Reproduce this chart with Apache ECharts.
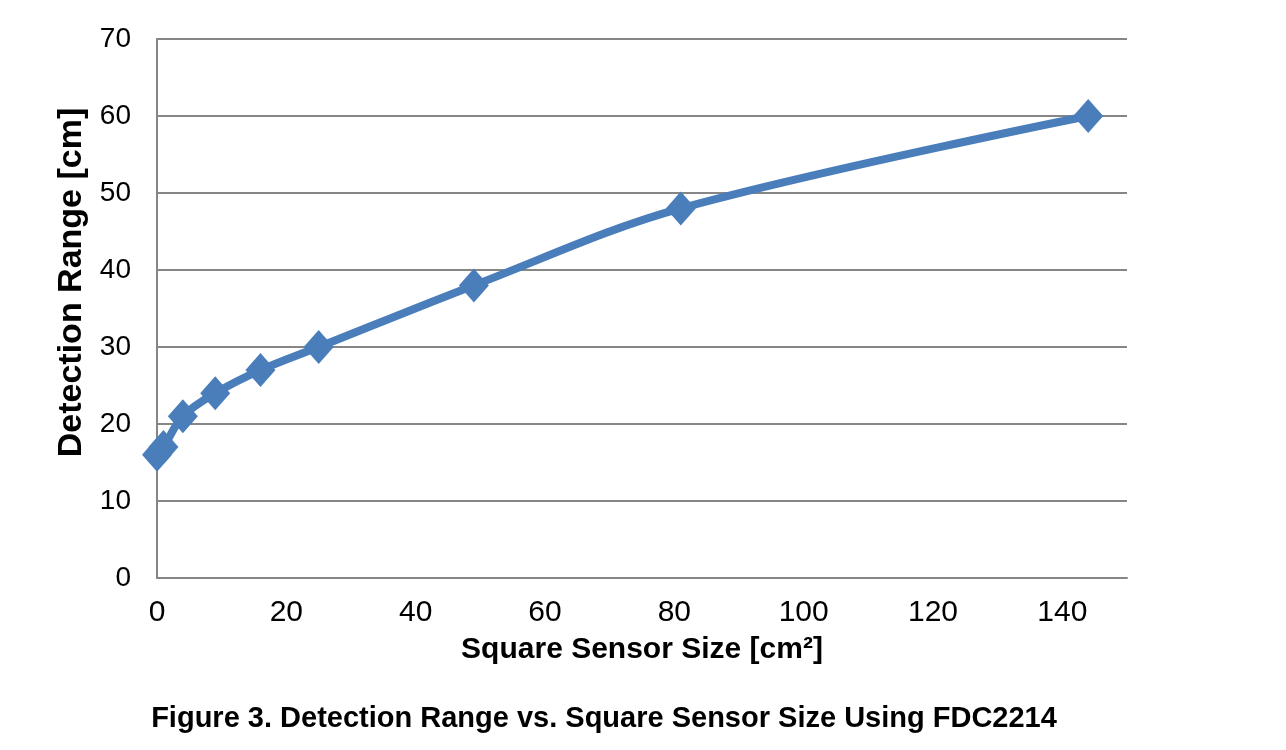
<!DOCTYPE html>
<html>
<head>
<meta charset="utf-8">
<script src="https://cdn.jsdelivr.net/npm/echarts@6/dist/echarts.min.js"></script>
<style>
  html, body { margin: 0; padding: 0; background: #fff; }
  #chart { width: 1286px; height: 750px; }
</style>
</head>
<body>
<div id="chart"></div>
<script>
// sensor area in cm^2 (square side 1..12 cm) and measured range
var sensorSize = [0, 1, 4, 9, 16, 25, 49, 81, 144];
var detectRange = [16, 17, 21, 24, 27, 30, 38, 48, 60];
var xTicks = [0, 20, 40, 60, 80, 100, 120, 140];
var yTicks = [0, 10, 20, 30, 40, 50, 60, 70];

var pts = sensorSize.map(function (v, i) { return [v, detectRange[i]]; });
var myChart = echarts.init(document.getElementById('chart'), null, { renderer: 'canvas' });
var font = 'Arial, "Liberation Sans", sans-serif';
var gray = '#868686';

var option = {
  animation: false,
  backgroundColor: '#fff',
  title: {
    text: 'Figure 3. Detection Range vs. Square Sensor Size Using FDC2214',
    left: 599,
    textAlign: 'center',
    top: 699,
    textStyle: { fontFamily: font, fontSize: 29, fontWeight: 'bold', color: '#000' }
  },
  grid: { left: 157, right: 159, top: 39, bottom: 172 },
  xAxis: {
    type: 'value',
    min: 0, max: 150, interval: 20,
    name: 'Square Sensor Size [cm²]',
    nameLocation: 'middle',
    nameGap: 57,
    nameTextStyle: { fontFamily: font, fontSize: 30, fontWeight: 'bold', color: '#000' },
    axisLine: { lineStyle: { color: gray, width: 2 } },
    axisTick: { show: false },
    splitLine: { show: false },
    axisLabel: {
      margin: 20, color: '#000', fontFamily: font, fontSize: 30,
      showMaxLabel: false,
      formatter: function (v) { return xTicks.indexOf(v) >= 0 ? v : ''; }
    }
  },
  yAxis: {
    type: 'value',
    min: 0, max: 70, interval: 10,
    name: 'Detection Range [cm]',
    nameLocation: 'middle',
    nameGap: 61,
    nameTextStyle: { fontFamily: font, fontSize: 34, fontWeight: 'bold', color: '#000', padding: [0, 0, 0, 52] },
    axisLine: { show: true, lineStyle: { color: gray, width: 2 } },
    axisTick: { show: false },
    splitLine: { lineStyle: { color: gray, width: 2 } },
    axisLabel: {
      margin: 26, color: '#000', fontFamily: font, fontSize: 28,
      formatter: function (v) { return yTicks.indexOf(v) >= 0 ? v : ''; }
    }
  },
  series: [{
    type: 'line',
    data: pts,
    smooth: 0.35,
    lineStyle: { color: '#4A7EBB', width: 8 },
    itemStyle: { color: '#4A7EBB' },
    symbol: 'diamond',
    symbolSize: [30, 34]
  }]
};
myChart.setOption(option);
</script>
</body>
</html>
